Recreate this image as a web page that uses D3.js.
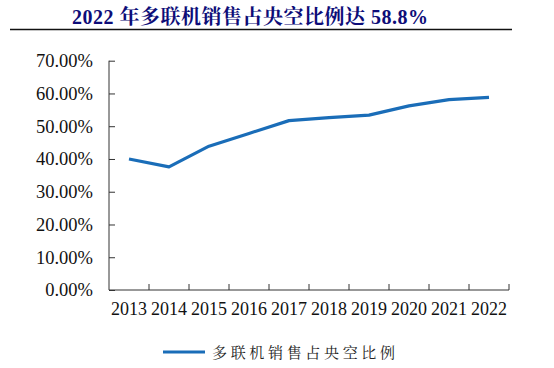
<!DOCTYPE html>
<html><head><meta charset="utf-8">
<script src="https://cdn.jsdelivr.net/npm/d3@7"></script>
<style>body{margin:0;background:#fff}svg{display:block}</style>
</head><body>
<svg id="c" width="554" height="368"></svg>
<script>
const years = ["2013","2014","2015","2016","2017","2018","2019","2020","2021","2022"];
const shareValues = [40.0, 37.6, 43.9, 47.8, 51.7, 52.6, 53.4, 56.2, 58.1, 58.8];
const yTicks = [0,10,20,30,40,50,60,70];
const titleText = "2022 年多联机销售占央空比例达 58.8%";
const seriesName = "多联机销售占央空比例";

const svg = d3.select("#c");
const serif = "'Times New Roman','Liberation Serif','Noto Serif CJK SC','Noto Sans CJK SC',serif";
const plotLeft = 109, plotRight = 509, plotTop = 60.7, plotBottom = 290;

// title
const t = svg.append("text").attr("x", 72).attr("y", 24)
  .attr("font-family", serif).attr("font-weight", "bold").attr("font-size", 20)
  .attr("fill", "#0d0d78").text(titleText);
t.attr("textLength", 356).attr("lengthAdjust", "spacing");
svg.append("line").attr("x1", 10).attr("x2", 512).attr("y1", 29.5).attr("y2", 29.5)
  .attr("stroke", "#111").attr("stroke-width", 1.5);

const x = d3.scaleBand().domain(years).range([plotLeft, plotRight]);
const y = d3.scaleLinear().domain([0, 70]).range([plotBottom, plotTop]);

const gy = svg.append("g").attr("transform", `translate(${plotLeft},0)`)
  .call(d3.axisLeft(y).tickValues(yTicks).tickSize(-6).tickPadding(16)
    .tickFormat(d => d3.format(".2f")(d) + "%"));
const gx = svg.append("g").attr("transform", `translate(0,${plotBottom})`)
  .call(d3.axisBottom(x).tickValues([]).tickSize(0));
const bounds = years.map(d => x(d) + x.bandwidth());
svg.append("g").selectAll("line").data(bounds).join("line")
  .attr("x1", d => d).attr("x2", d => d).attr("y1", plotBottom).attr("y2", plotBottom - 6)
  .attr("stroke", "#333").attr("stroke-width", 1);
svg.append("g").selectAll("text").data(years).join("text")
  .attr("x", d => x(d) + x.bandwidth()/2).attr("y", 315)
  .attr("text-anchor", "middle").attr("font-family", serif).attr("font-size", 18)
  .attr("fill", "#111").text(d => d);

[gy, gx].forEach(g => {
  g.select(".domain").attr("stroke", "#333").attr("stroke-width", 1);
  g.selectAll(".tick line").attr("stroke", "#333");
  g.selectAll("text").attr("font-family", serif).attr("font-size", 18.5).attr("fill", "#111");
});
gy.select(".domain").attr("d", `M0,${plotTop}V${plotBottom}`);
gx.select(".domain").attr("d", `M${plotLeft},0H${plotRight}`);

const line = d3.line().x((d,i) => x(years[i]) + x.bandwidth()/2).y(d => y(d));
svg.append("path").datum(shareValues).attr("d", line)
  .attr("fill", "none").attr("stroke", "#1a6db8").attr("stroke-width", 3.2)
  .attr("stroke-linejoin", "round");

// legend
svg.append("line").attr("x1", 163).attr("x2", 205).attr("y1", 352).attr("y2", 352)
  .attr("stroke", "#1a6db8").attr("stroke-width", 3.2);
svg.append("text").attr("x", 212).attr("y", 358)
  .attr("font-family", "'Noto Serif CJK SC','Noto Sans CJK SC',sans-serif").attr("font-size", 15)
  .attr("fill", "#222").attr("textLength", 183).attr("lengthAdjust", "spacing").text(seriesName);
</script>
</body></html>
